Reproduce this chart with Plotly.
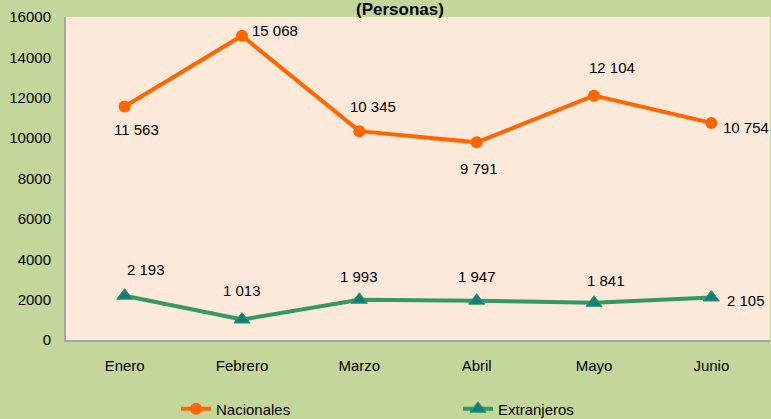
import plotly.graph_objects as go

meses = ["Enero", "Febrero", "Marzo", "Abril", "Mayo", "Junio"]
nacionales = [11563, 15068, 10345, 9791, 12104, 10754]
extranjeros = [2193, 1013, 1993, 1947, 1841, 2105]
y_ticks = [0, 2000, 4000, 6000, 8000, 10000, 12000, 14000, 16000]

def fmt(v):
    return f"{v:,}".replace(",", " ")

# label offsets (xshift, yshift, xanchor)
nac_off = [(12, -23, "center"), (8, 5, "left"), (14, 25, "center"),
           (2, -26, "center"), (18, 28, "center"), (10, -5, "left")]
ext_off = [(21, 26, "center"), (0, 29, "center"), (0, 23, "center"),
           (0, 24, "center"), (12, 22, "center"), (14, -3, "left")]

FONT = "Liberation Sans, Arial, sans-serif"
fig = go.Figure()
fig.add_trace(go.Scatter(x=meses, y=nacionales, name="Nacionales", mode="lines+markers",
                         line=dict(color="#ff6600", width=4),
                         marker=dict(symbol="circle", size=12, color="#ff6600")))
fig.add_trace(go.Scatter(x=meses, y=extranjeros, name="Extranjeros", mode="lines+markers",
                         line=dict(color="#339966", width=4),
                         marker=dict(symbol="triangle-up", size=14, color="#127f7a",
                                     line=dict(color="#339966", width=1))))

ann = []
for m, v, (dx, dy, xa) in zip(meses, nacionales, nac_off):
    ann.append(dict(x=m, y=v, text=fmt(v), showarrow=False, xshift=dx, yshift=dy,
                    xanchor=xa, font=dict(size=15, color="#000000", family=FONT)))
for m, v, (dx, dy, xa) in zip(meses, extranjeros, ext_off):
    ann.append(dict(x=m, y=v, text=fmt(v), showarrow=False, xshift=dx, yshift=dy,
                    xanchor=xa, font=dict(size=15, color="#000000", family=FONT)))
ann.append(dict(x=(400 - 66) / 704, y=1 + 7 / 323, xref="paper", yref="paper",
                text="<b>(Personas)</b>", showarrow=False, xanchor="center", yanchor="middle",
                font=dict(size=17, color="#000000", family=FONT)))

fig.update_layout(
    width=771, height=419,
    margin=dict(l=66, r=1, t=17, b=79),
    paper_bgcolor="#c4d79b",
    plot_bgcolor="#fde9d9",
    font=dict(family=FONT, size=15, color="#000000"),
    showlegend=True,
    legend=dict(orientation="h", xref="container", yref="container",
                x=176/771, y=1 - 409/419, xanchor="left", yanchor="middle",
                entrywidth=237, entrywidthmode="pixels",
                bgcolor="rgba(0,0,0,0)", font=dict(size=15, family=FONT)),
    annotations=ann,
)
fig.update_xaxes(range=[-0.5, 5.5], showgrid=False, showline=True, linecolor="#a6a6a6",
                 linewidth=2, ticks="outside", ticklen=11, tickcolor="rgba(0,0,0,0)",
                 tickfont=dict(size=15, family=FONT), zeroline=False)
fig.update_yaxes(range=[0, 16000], tickvals=y_ticks, ticktext=[str(t) for t in y_ticks],
                 showgrid=False, showline=True, linecolor="#a6a6a6", linewidth=2,
                 ticks="outside", ticklen=10, tickcolor="rgba(0,0,0,0)",
                 tickfont=dict(size=15, family=FONT), zeroline=False)

fig.write_html("out.html", config={"displayModeBar": False},
               post_script="document.body.style.margin='0';document.body.style.overflow='hidden';")
